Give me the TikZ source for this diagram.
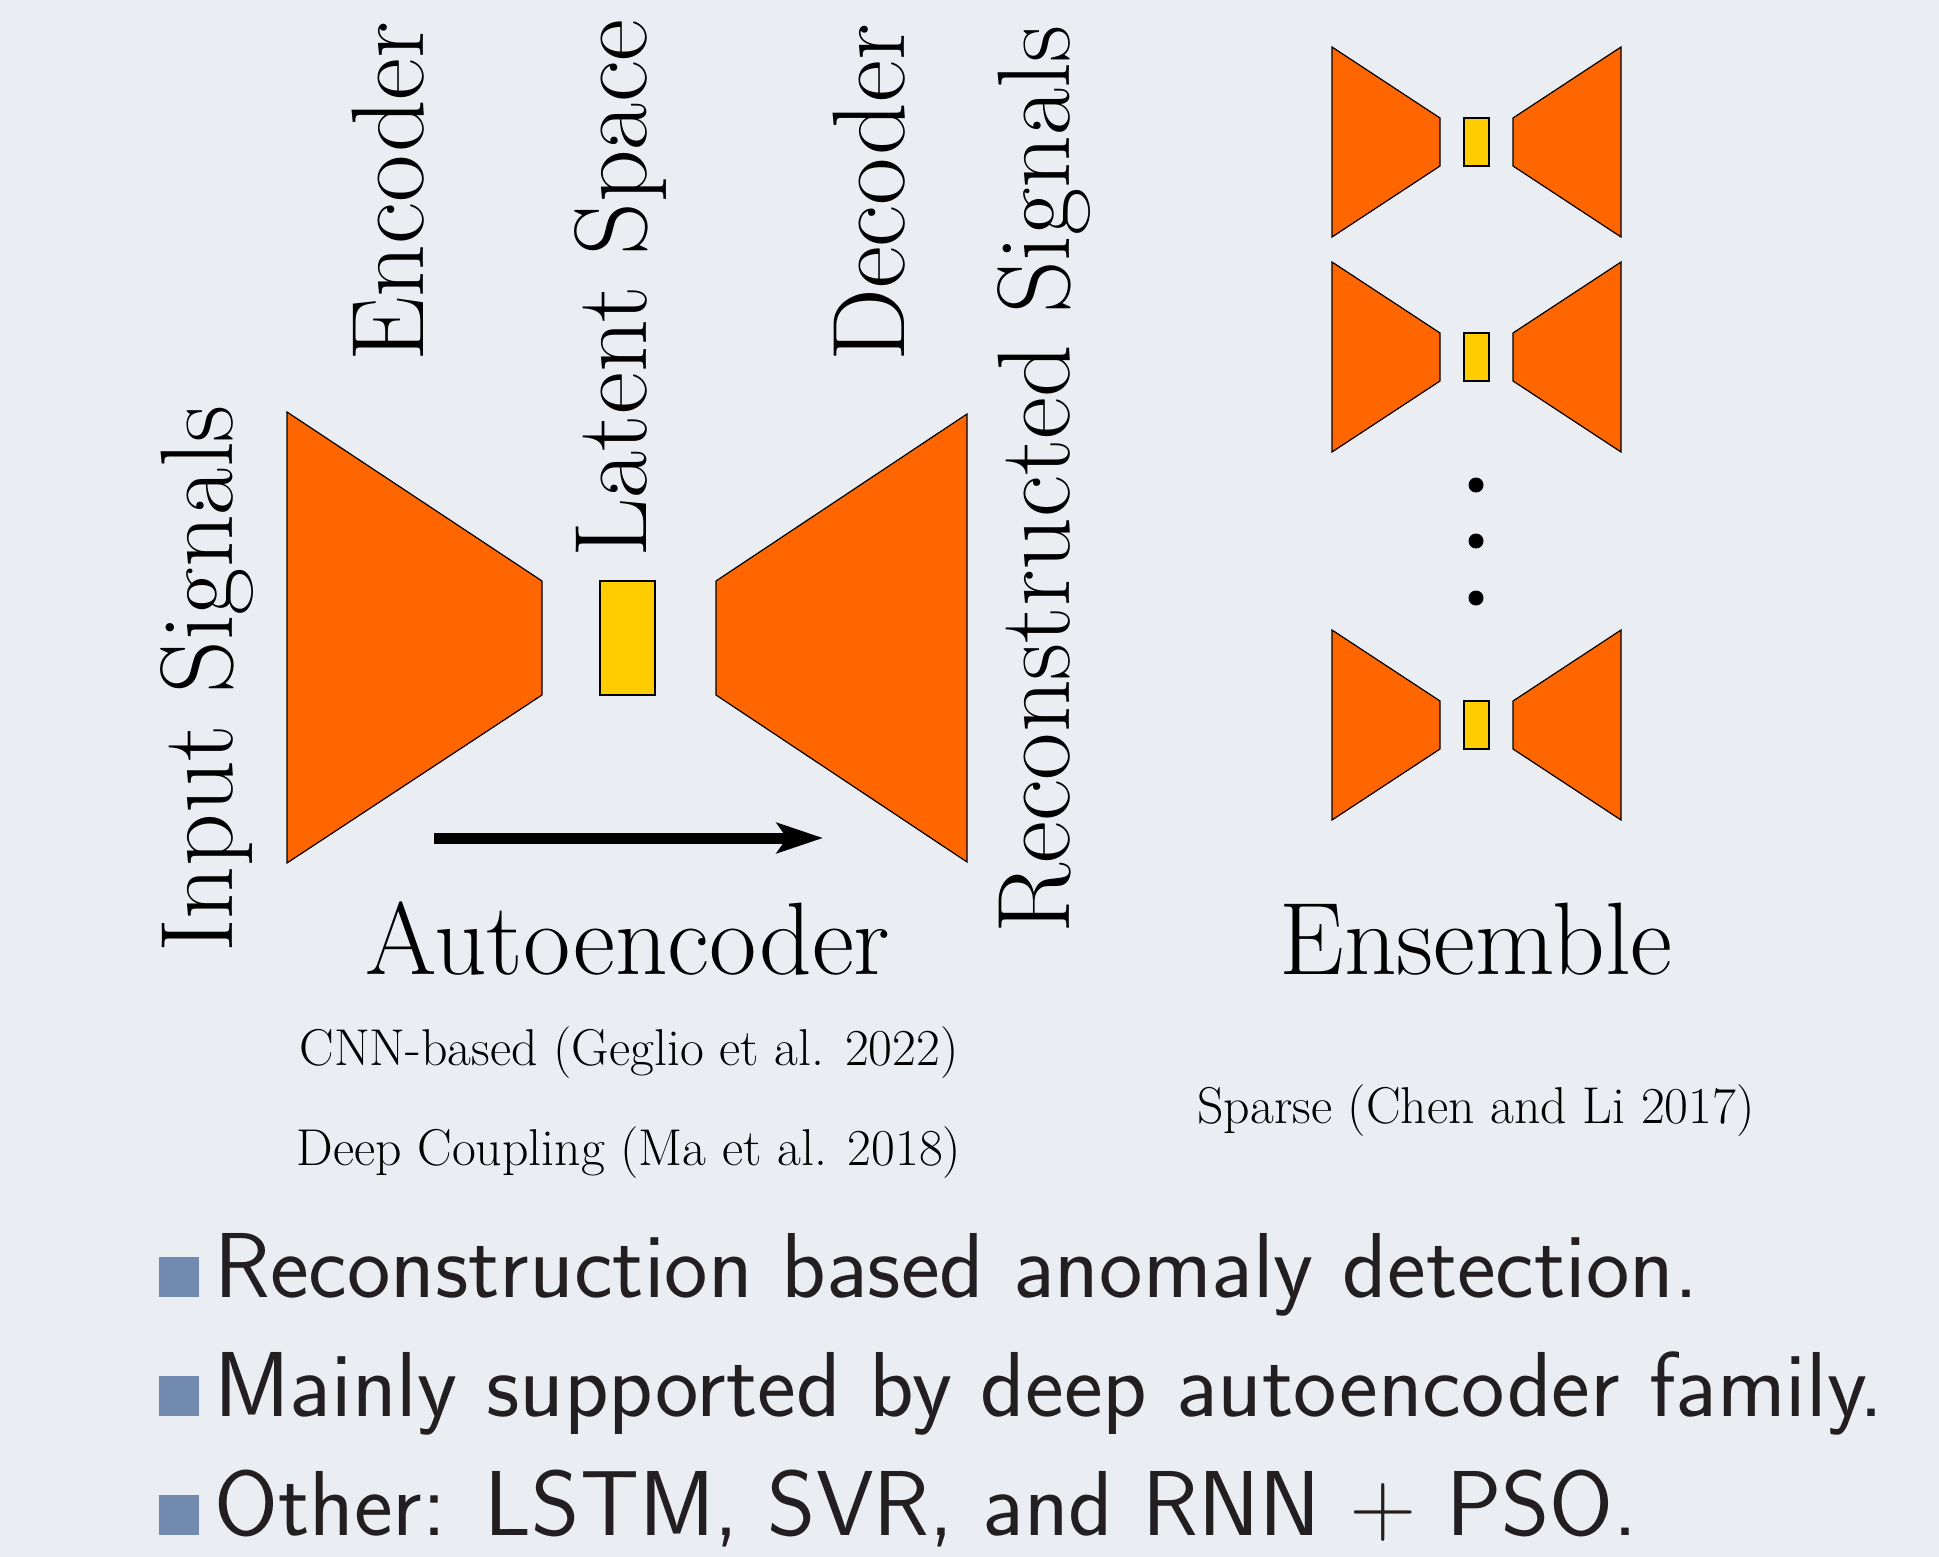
\documentclass[tikz,border=0pt]{standalone}
\usetikzlibrary{arrows.meta}

\definecolor{slidebg}{RGB}{234,238,243}
\definecolor{aeorange}{RGB}{255,102,0}
\definecolor{aeyellow}{RGB}{255,204,0}
\definecolor{bulletblue}{RGB}{114,138,175}
\definecolor{bodytext}{RGB}{35,31,32}

\tikzset{
  block/.style={fill=aeorange, draw=black, line width=1.2pt, line join=miter},
  latentbox/.style={fill=aeyellow, draw=black, line width=1.2pt},
  biglabel/.style={inner sep=0pt, font=\fontsize{103}{110}\selectfont},
  vlabel/.style={biglabel, rotate=90, anchor=base west},
  citelabel/.style={inner sep=0pt, anchor=base, font=\fontsize{51.8}{56}\selectfont},
  bullettext/.style={inner sep=0pt, anchor=base west, text=bodytext,
    font=\sffamily\fontsize{92.3}{100}\selectfont},
  bulletbox/.style={fill=bulletblue, draw=none, minimum size=40pt,
    inner sep=0pt, anchor=south west},
  ensdot/.style={circle, fill=black, inner sep=0pt, minimum size=15pt},
}

% one small encoder / latent / decoder unit centred vertically at #1
\newcommand{\aeunit}[1]{%
  \begin{scope}[yshift=-#1pt]
    \draw[block] (1332,-95) -- (1440,-24) -- (1440,24) -- (1332,95) -- cycle;
    \draw[latentbox] (1464,-24) rectangle (1489,24);
    \draw[block] (1513,-24) -- (1621,-95) -- (1621,95) -- (1513,24) -- cycle;
  \end{scope}}

\begin{document}
\begin{tikzpicture}[x=1pt, y=-1pt]
  \useasboundingbox (0,0) rectangle (1939,1557);
  \fill[slidebg] (0,0) rectangle (1939,1557);

  % main autoencoder
  \draw[block] (287,412) -- (542,581) -- (542,695) -- (287,863) -- cycle;
  \draw[latentbox] (600,581) rectangle (655,695);
  \draw[block] (716,581) -- (967,414) -- (967,862) -- (716,695) -- cycle;

  \coordinate (flowstart) at (434,838);
  \coordinate (flowend) at (823,838);
  \draw[line width=11pt, -{Stealth[length=46pt, width=30pt, inset=10pt]}]
    (flowstart) -- (flowend);

  % vertical labels
  \node[vlabel] (input) at (232,953) {Input Signals};
  \node[vlabel] (enc) at (423,362) {Encoder};
  \node[vlabel] (lat) at (646,558) {Latent Space};
  \node[vlabel] (dec) at (904,362) {Decoder};
  \node[vlabel] (recon) at (1069,934) {Reconstructed Signals};

  % captions
  \node[biglabel, anchor=base] (ae) at (628,974) {Autoencoder};
  \node[citelabel] (cnn) at (629,1065) {CNN-based (Geglio et al. 2022)};
  \node[citelabel] (dc) at (629,1165) {Deep Coupling (Ma et al. 2018)};

  % ensemble of small autoencoders
  \aeunit{142}
  \aeunit{357}
  \aeunit{725}
  \node[ensdot] (d1) at (1476,485) {};
  \node[ensdot] (d2) at (1476,541) {};
  \node[ensdot] (d3) at (1476,598) {};

  \node[biglabel, anchor=base] (ens) at (1476,974) {Ensemble};
  \node[citelabel] (sparse) at (1476,1123) {Sparse (Chen and Li 2017)};

  % bullet list
  \node[bulletbox] (b1) at (159,1297) {};
  \node[bullettext] (t1) at (214,1297) {Reconstruction based anomaly detection.};
  \node[bulletbox] (b2) at (159,1416) {};
  \node[bullettext] (t2) at (214,1416) {Mainly supported by deep autoencoder family.};
  \node[bulletbox] (b3) at (159,1535) {};
  \node[bullettext] (t3) at (214,1535) {Other: LSTM, SVR, and RNN + PSO.};
\end{tikzpicture}
\end{document}
